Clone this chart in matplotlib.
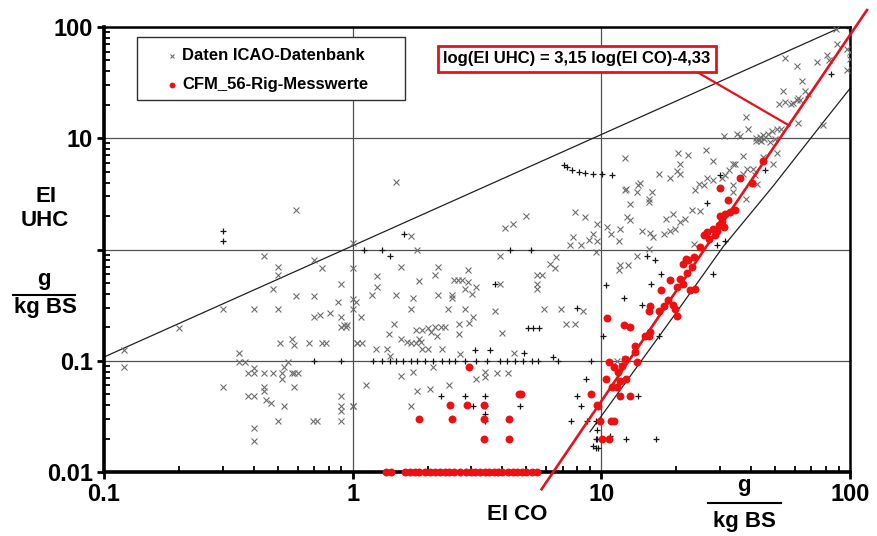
import math
import matplotlib
matplotlib.use("Agg")
import matplotlib.pyplot as plt
from matplotlib.ticker import FixedLocator, FixedFormatter, LogLocator, NullFormatter
from matplotlib.lines import Line2D
from matplotlib.patches import Rectangle

plt.rcParams['font.family'] = ['Liberation Sans', 'DejaVu Sans']
plt.rcParams['font.weight'] = 'bold'

# ---------------- data ----------------
# ICAO data bank, "x" markers (EI CO, EI UHC)
icao_x_co = [
    0.59, 1.0, 0.44, 0.70, 0.50, 0.75, 0.50, 1.0, 0.48, 0.90, 0.59, 0.70, 0.87, 1.0, 1.03,
    0.30, 0.40, 0.50, 0.70, 0.74, 0.81, 1.0, 0.90, 0.92, 0.94, 0.90, 0.20, 0.12, 0.12,
    0.51, 0.57, 0.58, 0.67, 0.75, 0.78, 1.04, 0.35, 0.35, 0.37, 0.55,
    0.38, 0.40, 0.44, 0.48, 0.52, 0.57, 0.58, 0.60, 0.40, 0.53, 0.52, 0.30, 0.44, 0.44, 0.58,
    0.38, 0.40, 0.45, 0.47, 0.53, 0.90, 0.90, 0.90, 1.0, 0.50, 0.69, 0.72, 0.90, 0.40, 0.40,
    1.50, 1.72, 1.82, 1.57, 2.21, 2.15, 1.25, 1.25, 1.84, 2.55, 2.65, 2.75,
    2.9, 2.9, 3.12, 2.82, 3.02, 1.2, 1.5, 1.75, 2.21, 2.5, 2.5, 1.08, 0.95,
    1.71, 2.42, 2.82, 3.72, 3.93, 5.5, 5.78, 5.5, 5.5, 6.2, 6.5, 6.6, 3.93, 4.1, 4.4, 5.0,
    7.8, 8.6, 7.7, 7.5, 8.3, 8.9, 9.3, 9.6, 9.6, 9.5, 5.9, 6.9, 8.4, 7.2, 7.8,
    1.46, 1.4, 1.56, 1.65, 1.71, 1.79, 1.88, 1.85, 2.0, 1.9, 1.79, 1.9, 2.0, 2.06, 2.15,
    2.26, 2.36, 2.19, 2.67, 2.67, 2.93, 3.05, 2.7, 2.29, 1.38, 1.24, 1.04, 1.09, 1.41,
    4.0, 4.45, 1.57, 1.75, 2.11, 2.44, 2.05, 1.82, 1.13, 1.71, 1.0,
    3.12, 3.4, 3.4, 3.81, 4.22,
    20.4, 22.4, 26.4, 12.5, 28.2, 37, 33.8, 38.5, 40.9, 49, 17, 18.9, 20.2, 20.7, 20.7,
    24.6, 25.8, 26.6, 28.2, 30.5, 32.5, 34.5, 31.5, 37, 41.5, 42.2, 44.8,
    14.3, 14.1, 13.9, 16, 15.5, 15.5, 12.6, 12.4, 13.1, 23.8, 34, 34, 38.2,
    10.5, 10.9, 11.9, 11.8, 12.7, 13, 14.6, 15.7, 16.2, 17.8, 18.2, 19.5, 18.9, 19.8,
    20.7, 21.7, 23.1, 24.9, 13.9, 15.5, 12.8, 11.9, 11.8, 23.6, 11.6, 12.5,
    88, 89, 97, 100, 100, 97, 80.5, 82, 73.5, 55, 61, 64, 54, 66, 67.5, 62, 61, 63,
    52, 55, 58, 59, 38.2, 39, 62, 78, 31, 35, 36, 42, 43.5, 44.8, 46.9, 48.4, 50.7, 53,
    42, 43, 44, 45, 47.8, 50, 51,
]
icao_x_uhc = [
    2.28, 1.14, 0.88, 0.80, 0.69, 0.68, 0.59, 0.68, 0.44, 0.49, 0.385, 0.385, 0.336, 0.36, 0.34,
    0.29, 0.29, 0.29, 0.245, 0.26, 0.27, 0.29, 0.245, 0.21, 0.20, 0.20, 0.195, 0.126, 0.087,
    0.145, 0.157, 0.138, 0.145, 0.145, 0.145, 0.145, 0.117, 0.098, 0.098, 0.098,
    0.077, 0.077, 0.077, 0.077, 0.077, 0.077, 0.077, 0.077, 0.086, 0.087, 0.068, 0.058, 0.058, 0.053, 0.058,
    0.048, 0.048, 0.044, 0.042, 0.039, 0.048, 0.039, 0.035, 0.039, 0.029, 0.029, 0.029, 0.029, 0.025, 0.019,
    4.04, 1.31, 0.98, 0.69, 0.69, 0.59, 0.58, 0.46, 0.52, 0.53, 0.53, 0.53,
    0.65, 0.51, 0.46, 0.44, 0.40, 0.39, 0.39, 0.365, 0.39, 0.39, 0.365, 0.245, 0.21,
    0.29, 0.29, 0.29, 0.28, 0.49, 0.59, 0.59, 0.49, 0.44, 0.74, 0.68, 0.86, 0.88, 1.57, 1.68, 1.98,
    2.17, 1.95, 1.29, 1.09, 1.09, 1.22, 1.38, 1.68, 1.2, 0.95, 0.29, 0.29, 0.28, 0.214, 0.214,
    0.214, 0.174, 0.157, 0.146, 0.144, 0.144, 0.146, 0.157, 0.127, 0.127, 0.189, 0.189, 0.195, 0.18, 0.2,
    0.2, 0.2, 0.166, 0.214, 0.174, 0.22, 0.245, 0.116, 0.127, 0.127, 0.127, 0.144, 0.144, 0.111,
    0.178, 0.117, 0.073, 0.079, 0.087, 0.06, 0.056, 0.054, 0.06, 0.039, 0.039,
    0.068, 0.079, 0.071, 0.077, 0.077,
    7.3, 7.0, 7.8, 6.6, 6.3, 6.9, 5.9, 5.3, 5.3, 5.9, 4.8, 4.4, 5.1, 5.9, 4.8,
    3.9, 3.8, 4.4, 4.2, 4.4, 5.2, 5.9, 4.7, 4.8, 4.7, 3.9, 6.8,
    4.0, 3.8, 3.3, 3.3, 2.86, 2.67, 3.5, 3.4, 2.58, 3.4, 3.8, 3.3, 2.86,
    1.59, 1.38, 1.54, 1.2, 1.96, 1.85, 1.48, 1.4, 1.29, 1.38, 1.89, 2.07, 1.48, 1.54,
    1.76, 1.89, 2.28, 2.24, 0.88, 1.01, 0.73, 0.73, 0.65, 1.12, 0.1, 0.104,
    96, 70, 64, 60, 52, 41, 56, 51, 48, 53, 44.6, 32.6, 26.5, 26.5, 25, 23.2, 22, 22,
    20.2, 21.2, 20.2, 20.8, 15.6, 12.1, 13.6, 13.1, 10.4, 10.9, 10.4, 10.1, 10.3, 10.6, 11, 11.6, 12, 12.2,
    9.5, 9.7, 9.4, 9.8, 9.3, 9.9, 7.4,
]

# ICAO data bank, "+" markers
icao_p_co = [
    0.30, 0.30, 0.70, 0.90,
    1.61, 1.11, 1.31, 1.41, 3.72, 4.3, 5.2, 8.0, 5.06, 5.3, 5.6, 3.09, 3.56, 4.9, 6.4,
    1.21, 1.31, 1.41, 1.49, 1.6, 1.71, 1.82, 1.95, 2.11, 2.29, 2.44, 2.59, 2.84, 3.12,
    3.47, 3.91, 4.18, 4.48, 4.84, 5.27, 5.57, 6.7, 9.1,
    2.26, 2.82, 3.4, 3.05, 3.4, 3.4, 3.4, 4.73, 7.98, 8.3, 8.7, 7.55, 8.75, 9.6, 9.6, 9.3,
    10.2, 9.5, 9.5, 10.8, 12.6, 16.6, 9.5, 9.7, 14.1, 17,
    7.1, 7.3, 7.6, 8.1, 8.6, 9.3, 10.1, 11.0, 30, 26.6, 45.6, 31.5, 29.3,
    16.5, 15.2, 17.3, 28.2, 15.8, 10.4, 12.3, 14.6, 84, 99,
]
icao_p_uhc = [
    1.48, 1.19, 0.1, 0.1,
    1.38, 1.0, 1.0, 0.88, 0.49, 1.0, 1.0, 0.30, 0.195, 0.195, 0.195, 0.126, 0.126, 0.117, 0.107,
    0.1, 0.1, 0.1, 0.1, 0.1, 0.1, 0.1, 0.1, 0.1, 0.1, 0.1, 0.1, 0.1, 0.1,
    0.1, 0.1, 0.1, 0.1, 0.1, 0.1, 0.1, 0.1, 0.1,
    0.048, 0.048, 0.048, 0.039, 0.039, 0.033, 0.029, 0.039, 0.048, 0.039, 0.068, 0.029, 0.029, 0.024, 0.020, 0.017,
    0.168, 0.029, 0.020, 0.021, 0.020, 0.020, 0.0166, 0.0166, 0.048, 0.168,
    5.7, 5.5, 5.2, 5.0, 4.9, 4.8, 4.8, 4.7, 4.7, 2.6, 5.2, 1.2, 1.09,
    0.80, 0.88, 0.60, 0.60, 0.49, 0.48, 0.37, 0.32, 37.5, 97,
]

# CFM-56 rig measurements (red dots)
rig_co = [
    2.93, 2.46, 2.87, 3.37, 1.84, 2.5, 3.37, 4.25, 3.37, 4.25, 4.66, 4.75, 9.1, 9.6,
    29.9, 36.1, 44.7, 40.5, 32.4, 34.5, 33, 31.5, 30, 30.5, 29.6, 28.2, 29.2, 31, 28.7,
    27, 26.6, 25.8, 24.9, 23.6, 22.4, 21.9, 21.4, 23.1, 22.1, 20.7, 21.4, 22.8, 18.9,
    20.1, 17.3, 18.6, 17.8, 19.5, 15.7, 15.5, 10.5, 23.8, 17, 20.1, 19.8,
    12.3, 13, 15.5, 15, 15.7, 13.7, 13.7, 13.9, 12.5, 12.1, 11.7, 11.2, 10.7, 10.4, 11.9,
    12.6, 11, 11.6, 11.9, 13, 9.7, 9.9, 10.9, 11.2, 10.1, 10.7,
]
rig_uhc = [
    0.087, 0.04, 0.04, 0.04, 0.03, 0.03, 0.03, 0.03, 0.02, 0.02, 0.05, 0.05, 0.05, 0.04,
    3.6, 4.4, 6.3, 4.0, 2.76, 2.28, 2.17, 2.1, 2.02, 1.82, 1.65, 1.54, 1.48, 1.59, 1.34,
    1.25, 1.43, 1.34, 1.05, 0.85, 0.80, 0.82, 0.74, 0.69, 0.62, 0.54, 0.49, 0.43, 0.53,
    0.46, 0.43, 0.35, 0.31, 0.32, 0.31, 0.28, 0.24, 0.44, 0.28, 0.25, 0.29,
    0.21, 0.2, 0.168, 0.168, 0.18, 0.136, 0.119, 0.097, 0.104, 0.09, 0.079, 0.087, 0.097, 0.068, 0.066,
    0.068, 0.058, 0.058, 0.048, 0.048, 0.039, 0.029, 0.029, 0.029, 0.020, 0.020,
]
# rig points at the lower detection limit (EI UHC = 0.01)
rig_floor_co = [
    1.36, 1.43, 1.63, 1.7, 1.78, 1.85, 1.95, 2.05, 2.15, 2.25, 2.35, 2.45, 2.55, 2.7,
    2.85, 3.0, 3.1, 3.25, 3.4, 3.55, 3.7, 3.85, 4.0, 4.2, 4.4, 4.6, 4.8, 5.0, 5.25, 5.5,
]
rig_floor_uhc = [0.01] * len(rig_floor_co)

# regression line as drawn in the chart (end points)
fit_co = [5.75, 117.0]
fit_uhc = [0.0070, 142.0]
# callout from equation box to the regression line
callout_co = [24.3, 57.0]
callout_uhc = [39.3, 13.0]

# envelope lines
upper_co = [0.1, 92.6]
upper_uhc = [0.108, 100.0]
lower_co = [9.0, 19.5, 30.9, 49.0, 78.0, 100.0]
lower_uhc = [0.023, 0.25, 1.06, 3.7, 13.9, 28.0]

x_ticks = [0.1, 1, 10, 100]
x_tick_labels = ['0.1', '1', '10', '100']
y_ticks = [0.01, 0.1, 1, 10, 100]
y_tick_labels = ['0.01', '0.1', '', '10', '100']

legend_labels = ['Daten ICAO-Datenbank', 'CFM_56-Rig-Messwerte']
equation = 'log(EI UHC) = 3,15 log(EI CO)-4,33'

# ---------------- figure ----------------
W, H = 877, 536
fig = plt.figure(figsize=(W / 100, H / 100), dpi=100)
fig.patch.set_facecolor('white')
ax = fig.add_axes([104 / W, 1 - 472 / H, 746 / W, 445 / H])
ax.set_xscale('log')
ax.set_yscale('log')
ax.set_xlim(0.1, 100)
ax.set_ylim(0.01, 100)

ax.grid(True, which='major', color='#505050', lw=0.9)
ax.set_axisbelow(True)

ax.xaxis.set_major_locator(FixedLocator(x_ticks))
ax.xaxis.set_major_formatter(FixedFormatter(x_tick_labels))
ax.yaxis.set_major_locator(FixedLocator(y_ticks))
ax.yaxis.set_major_formatter(FixedFormatter(y_tick_labels))
ax.xaxis.set_minor_locator(LogLocator(base=10, subs=range(2, 10)))
ax.yaxis.set_minor_locator(LogLocator(base=10, subs=range(2, 10)))
ax.xaxis.set_minor_formatter(NullFormatter())
ax.yaxis.set_minor_formatter(NullFormatter())
ax.tick_params(which='major', direction='out', length=5, width=2, labelsize=17, pad=3, color='black')
ax.tick_params(which='minor', direction='in', length=4, width=1.3, color='black')
for lab in ax.get_xticklabels() + ax.get_yticklabels():
    lab.set_fontweight('bold')
for s in ['left', 'bottom']:
    ax.spines[s].set_linewidth(2.6)
for s in ['top', 'right']:
    ax.spines[s].set_linewidth(1.8)

# envelope lines
ax.plot(upper_co, upper_uhc, color='#202020', lw=0.9, zorder=2)
ax.plot(lower_co, lower_uhc, color='#202020', lw=0.9, zorder=2)

# data
ax.plot(icao_x_co, icao_x_uhc, ls='none', marker='x', ms=4.3, mew=0.8, color='#6e6e6e', zorder=3)
ax.plot(icao_p_co, icao_p_uhc, ls='none', marker='+', ms=5.0, mew=0.9, color='#151515', zorder=3)

# regression line
ax.plot(fit_co, fit_uhc, color='#e3121b', lw=1.9, clip_on=False, zorder=5)

ax.plot(rig_co, rig_uhc, ls='none', marker='o', ms=5.7, mec='none', color='#ee1010', zorder=6)
ax.plot(rig_floor_co, rig_floor_uhc, ls='none', marker='o', ms=5.7, mec='none', color='#ee1010',
        zorder=7, clip_on=False)

ax.plot(callout_co, callout_uhc, color='#e3121b', lw=1.6, zorder=5)


def fx(px):
    return px / W


def fy(py):
    return 1 - py / H


# equation box
ax.text((577 - 104) / 746, (472 - 59) / 445, equation, transform=ax.transAxes,
        ha='center', va='center', fontsize=12, fontweight='bold', color='black', zorder=8,
        bbox=dict(boxstyle='square,pad=0.32', fc='white', ec='#e3121b', lw=2.0))

# legend (manual box)
fig.patches.append(Rectangle((fx(137), fy(100)), fx(405) - fx(137), fy(37) - fy(100),
                             transform=fig.transFigure, fc='white', ec='#303030', lw=1.0, zorder=9))
fig.add_artist(Line2D([fx(172)], [fy(56)], transform=fig.transFigure, ls='none', marker='x',
                      ms=3.2, mew=0.8, color='#6e6e6e', zorder=10))
fig.add_artist(Line2D([fx(172)], [fy(85)], transform=fig.transFigure, ls='none', marker='o',
                      ms=4.2, mec='none', color='#ee1010', zorder=10))
fig.text(fx(182), fy(56), legend_labels[0], ha='left', va='center', fontsize=12,
         fontweight='bold', zorder=10)
fig.text(fx(182), fy(85), legend_labels[1], ha='left', va='center', fontsize=12,
         fontweight='bold', zorder=10)

# axis labels (fraction style)
lab_fs = 16
fig.text(fx(46), fy(197), 'EI', ha='center', va='center', fontsize=lab_fs, fontweight='bold')
fig.text(fx(45), fy(221), 'UHC', ha='center', va='center', fontsize=lab_fs, fontweight='bold')
fig.text(fx(44), fy(279), 'g', ha='center', va='center', fontsize=lab_fs, fontweight='bold')
fig.add_artist(Line2D([fx(13), fx(75)], [fy(295), fy(295)], transform=fig.transFigure,
                      color='black', lw=1.5))
fig.text(fx(45), fy(307), 'kg BS', ha='center', va='center', fontsize=lab_fs, fontweight='bold')

fig.text(fx(517), fy(514), 'EI CO', ha='center', va='center', fontsize=lab_fs, fontweight='bold')
fig.text(fx(744), fy(486), 'g', ha='center', va='center', fontsize=lab_fs, fontweight='bold')
fig.add_artist(Line2D([fx(708), fx(781)], [fy(503), fy(503)], transform=fig.transFigure,
                      color='black', lw=1.5))
fig.text(fx(744), fy(521), 'kg BS', ha='center', va='center', fontsize=lab_fs, fontweight='bold')

fig.savefig('out.png', dpi=100, facecolor='white')
